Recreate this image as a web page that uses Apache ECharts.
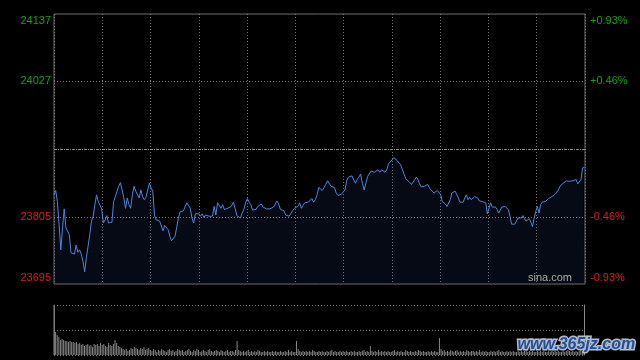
<!DOCTYPE html>
<html><head><meta charset="utf-8">
<script src="https://cdn.jsdelivr.net/npm/echarts@6/dist/echarts.min.js"></script>
<style>html,body{margin:0;padding:0;background:#000}#c{width:640px;height:360px}</style>
</head><body><div id="c"></div>
<script>
// ---- data ----
const priceTicks = [24137, 24027, 23805, 23695];
const priceTickLabels = ['24137', '24027', '23805', '23695'];
const pctTickLabels = ['+0.93%', '+0.46%', '-0.46%', '-0.93%'];
const gridLevels = [24027, 23805];
const prevClose = 23916;
const priceMin = 23695, priceMax = 24137;
const sessionMinutes = 330;           // 09:30-12:00 + 13:00-16:00
const halfHour = 30;

// time span (minutes since open) covered by each block of readings
const block1Span = [0, 110.1];
const block2Span = [110.4, 220.9];
const block3Span = [221.2, 329.5];

const block1Values = [
23841,23848,23830,23792,23751,23787,23818,23787,23785,23776,
23746,23744,23744,23759,23747,23751,23744,23732,23715,23738,
23757,23776,23798,23806,23825,23841,23830,23824,23818,23795,
23800,23807,23795,23795,23796,23830,23838,23847,23855,23861,
23849,23836,23819,23836,23825,23819,23841,23855,23847,23848,
23836,23849,23838,23833,23837,23849,23860,23852,23847,23808,
23800,23799,23798,23795,23782,23791,23788,23784,23773,23766,
23767,23773,23787,23803,23813,23814,23815,23822,23828,23825,
23819,23803,23795,23810,23811,23810,23806,23810,23804,23808,
23807,23806,23804,23806,23822,23808,23828,23825,23819,23825,
23817,23817,23819,23818,23822];
const block2Values = [
23824,23829,23819,23807,23804,23803,23811,23817,23828,23835,
23829,23825,23816,23817,23817,23822,23819,23826,23821,23819,
23818,23818,23818,23817,23821,23826,23831,23826,23817,23817,
23815,23808,23806,23806,23808,23815,23819,23817,23822,23828,
23819,23824,23828,23829,23829,23830,23835,23829,23833,23841,
23853,23855,23848,23849,23858,23864,23865,23855,23852,23853,
23844,23840,23841,23842,23844,23849,23864,23870,23872,23872,
23870,23860,23866,23870,23875,23860,23849,23860,23871,23874,
23880,23878,23878,23879,23882,23878,23882,23884,23878,23882,
23892,23891,23898,23902,23902,23897,23895,23890,23882,23874,
23867,23865,23862];
const block3Values = [
23860,23858,23859,23866,23870,23866,23859,23854,23854,23855,
23853,23858,23853,23849,23846,23844,23847,23848,23849,23842,
23830,23829,23826,23822,23825,23833,23844,23847,23847,23844,
23836,23829,23826,23829,23836,23841,23833,23837,23833,23836,
23838,23838,23836,23831,23829,23830,23829,23828,23810,23811,
23828,23821,23822,23821,23817,23811,23808,23821,23822,23822,
23821,23817,23806,23793,23795,23793,23793,23803,23804,23803,
23807,23802,23798,23800,23802,23796,23789,23803,23814,23822,
23811,23825,23829,23829,23830,23831,23835,23837,23838,23840,
23842,23844,23849,23855,23852,23860,23858,23864,23862,23863,
23860,23864,23861,23866,23859,23857,23866,23885,23886];

// per-minute volume (relative units)
const volumes = [
50,
23,20,18,
15,16,15,14,14,13,14,13,13,
12,13,11,12,10,11,9,10,11,9,10,8,11,
10,11,9,12,10,11,9,8,12,10,9,11,
15,12,9,
8,7,6,5,6,4,5,7,6,8,7,6,5,7,6,8,5,6,7,5,
4,6,5,3,5,4,6,5,4,3,5,6,4,5,3,4,6,5,4,5,3,4,5,6,4,3,5,4,6,5,3,4,5,4,3,5,6,4,3,4,5,4,3,5,4,3,4,5,3,4,4,3,5,
14,
5,4,3,4,3,4,5,3,4,3,4,3,5,4,3,3,4,3,4,3,3,4,3,4,3,3,4,3,3,4,3,5,3,4,3,3,
14,
6,4,3,4,3,4,3,4,3,5,4,3,3,4,3,4,3,3,4,3,4,5,3,4,3,3,4,3,4,3,4,3,3,4,3,4,3,3,4,3,4,5,3,4,3,
9,
4,3,4,3,5,3,4,3,4,3,4,3,3,4,5,3,4,3,4,3,3,5,4,3,4,3,3,4,3,5,4,3,4,3,3,4,3,4,3,4,3,3,
17,
6,4,5,3,4,3,5,4,3,4,5,3,4,3,4,3,5,4,3,4,4,3,4,3,5,3,4,3,4,3,3,4,3,4,3,4,5,3,4,3,3,4,3,4,3,4,3,3,4,3,4,3,4,5,3,4,3,4,3,3,4,3,4,3,4,3,3,4,3,4,3,4,3,4,3,3,4,3,4,5,4,3,4,3,4,3,4,5,4,6];

// ---- build series data ----
function place(values, span) {
  const n = values.length;
  return values.map((v, k) => [span[0] + (span[1] - span[0]) * k / (n - 1), v]);
}
const lineData = [].concat(place(block1Values, block1Span), place(block2Values, block2Span), place(block3Values, block3Span));
const volData = volumes.map((v, i) => [i, v]);

const GREEN = '#14a014', RED = '#e01c1c', GRID = '#7a7a7a', FRAME = '#6e6e6e';
const FONT = '"Liberation Sans", Arial, sans-serif';

function fmt(labels) {
  return function (v) {
    const i = priceTicks.indexOf(v);
    if (i < 0) return '';
    let key = v > prevClose ? 'g' : 'r';
    if (v === priceMax) key += 'T';
    if (v === priceMin) key += 'B';
    return '{' + key + '|' + labels[i] + '}';
  };
}
const rich = {
  g: {color: GREEN, fontSize: 11, fontFamily: FONT},
  r: {color: RED, fontSize: 11, fontFamily: FONT},
  gT: {color: GREEN, fontSize: 11, fontFamily: FONT, padding: [13, 0, 0, 0]},
  rB: {color: RED, fontSize: 11, fontFamily: FONT, padding: [0, 0, 13, 0]}
};

const chart = echarts.init(document.getElementById('c'), null, {renderer: 'canvas'});
chart.setOption({
  backgroundColor: '#000',
  animation: false,
  grid: [
    {left: 54, right: 55, top: 14, height: 270, show: true, borderColor: FRAME, borderWidth: 1, backgroundColor: 'transparent'},
    {left: 54, right: 56, top: 305, height: 50}
  ],
  xAxis: [
    {gridIndex: 0, type: 'value', min: 0, max: sessionMinutes, interval: halfHour,
     axisLine: {show: false}, axisTick: {show: false}, axisLabel: {show: false},
     splitLine: {show: true, lineStyle: {color: GRID, type: [1, 2], width: 1}}},
    {gridIndex: 1, type: 'value', min: 0, max: sessionMinutes, show: false}
  ],
  yAxis: [
    {gridIndex: 0, type: 'value', min: priceMin, max: priceMax, position: 'left',
     axisLine: {show: false}, axisTick: {show: false}, splitLine: {show: false},
     axisLabel: {customValues: priceTicks, formatter: fmt(priceTickLabels), rich: rich, margin: 3}},
    {gridIndex: 0, type: 'value', min: priceMin, max: priceMax, position: 'right',
     axisLine: {show: false}, axisTick: {show: false}, splitLine: {show: false},
     axisLabel: {customValues: priceTicks, formatter: fmt(pctTickLabels), rich: rich, margin: 5}},
    {gridIndex: 1, type: 'value', min: 0, max: 50, interval: 25, position: 'left',
     axisLine: {show: true, lineStyle: {color: FRAME}}, axisTick: {show: false}, axisLabel: {show: false},
     splitLine: {show: true, lineStyle: {color: GRID, type: [1, 2]}}},
    {gridIndex: 1, type: 'value', min: 0, max: 50, position: 'right',
     axisLine: {show: true, lineStyle: {color: '#8a8a8a'}}, axisTick: {show: false}, axisLabel: {show: false},
     splitLine: {show: false}}
  ],
  series: [
    {type: 'line', xAxisIndex: 0, yAxisIndex: 0, data: lineData, symbol: 'none', showSymbol: false,
     lineStyle: {color: '#4a86e0', width: 1},
     areaStyle: {color: 'rgba(40,70,140,0.2)'},
     markLine: {silent: true, symbol: 'none', label: {show: false}, animation: false,
       data: gridLevels.map(v => ({yAxis: v, lineStyle: {color: GRID, type: [1, 2], width: 1}}))
         .concat([{yAxis: prevClose, lineStyle: {color: '#8c8c8c', type: [3, 1, 1, 1], width: 1}}])}
    },
    {type: 'bar', xAxisIndex: 1, yAxisIndex: 2, data: volData, barWidth: 1,
     itemStyle: {color: '#858585'}}
  ],
  graphic: [
    {type: 'text', right: 68, top: 272, z: 10,
     style: {text: 'sina.com', fill: '#a8a8a8', font: '11px ' + FONT}},
    {type: 'text', left: 516, top: 335, z: 10,
     style: {text: 'www.365jz.com', fill: '#1f4e9c', stroke: '#b4bcc8', lineWidth: 3,
             font: 'italic bold 16px ' + FONT}}
  ]
});
</script></body></html>
